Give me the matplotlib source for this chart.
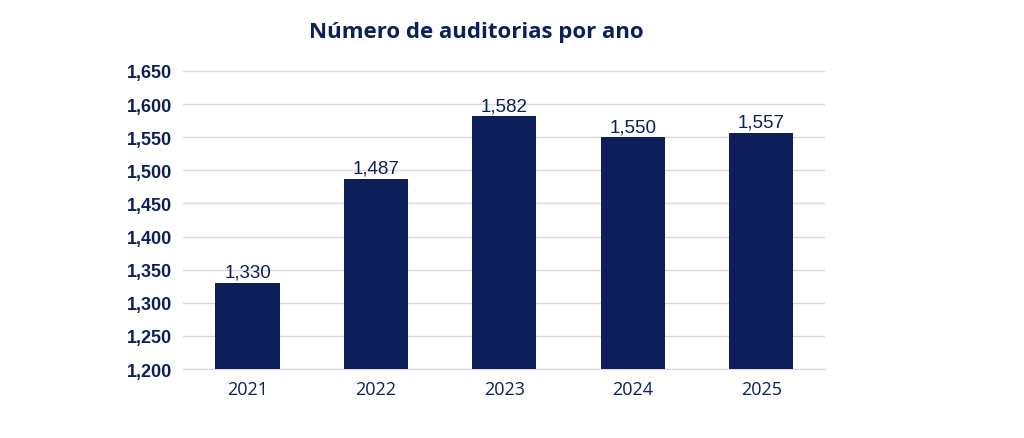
import matplotlib
matplotlib.use("Agg")
import matplotlib.pyplot as plt

years = ["2021", "2022", "2023", "2024", "2025"]
values = [1330, 1487, 1582, 1550, 1557]
yticks = [1200, 1250, 1300, 1350, 1400, 1450, 1500, 1550, 1600, 1650]
navy = "#0c1f5b"

fig = plt.figure(figsize=(10.24, 4.39), dpi=100)
ax = fig.add_axes([0.179, 0.157, 0.627, 0.679])
x = range(len(years))
ax.bar(x, values, width=0.5, color=navy, zorder=3)
ax.set_xlim(-0.5, len(years) - 0.5)
ax.set_ylim(1200, 1650)
ax.set_yticks(yticks)
ax.set_yticklabels([f"{v:,}" for v in yticks], fontfamily="Liberation Sans",
                   fontweight="bold", fontsize=13, color=navy)
ax.set_xticks(list(x))
ax.set_xticklabels(years, fontfamily="Open Sans", fontsize=13, color=navy)
ax.grid(axis="y", color="#d9d9d9", linewidth=1, zorder=0)
for s in ["top", "right", "left"]:
    ax.spines[s].set_visible(False)
ax.spines["bottom"].set_color("#d9d9d9")
ax.tick_params(length=0, pad=8)
for i, v in zip(x, values):
    ax.text(i, v + 3, f"{v:,}", ha="center", va="bottom", fontfamily="Liberation Sans",
            fontsize=13.5, color=navy)
fig.text(0.465, 0.925, "Número de auditorias por ano", ha="center", va="center",
         fontfamily="Open Sans", fontweight="bold", fontsize=16, color=navy)
fig.savefig("out.png", dpi=100)
